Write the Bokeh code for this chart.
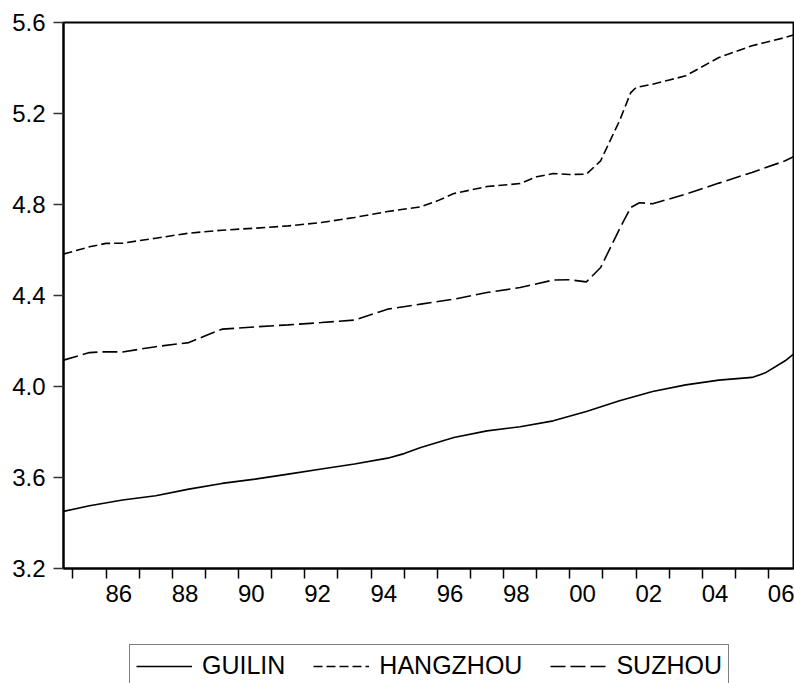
from bokeh.plotting import figure
from bokeh.layouts import column
from bokeh.models import (Range1d, FixedTicker, NumeralTickFormatter,
                          CustomJSTickFormatter, Legend, LegendItem)
from bokeh.embed import file_html
from bokeh.resources import INLINE

# ---- data ----
guilin_x = [1984.716, 1985.5, 1986.5, 1987.5, 1988.5, 1989.5, 1990.5, 1991.5,
            1992.5, 1993.5, 1994.5, 1995.0, 1995.5, 1996.5, 1997.5, 1998.5,
            1999.5, 2000.5, 2001.5, 2002.5, 2003.5, 2004.5, 2005.5, 2005.9,
            2006.5, 2006.752]
guilin = [3.451, 3.476, 3.501, 3.520, 3.549, 3.574, 3.593, 3.615,
          3.637, 3.659, 3.685, 3.705, 3.732, 3.776, 3.805, 3.823,
          3.849, 3.890, 3.937, 3.978, 4.007, 4.028, 4.040, 4.060,
          4.113, 4.142]

hangzhou_x = [1984.716, 1985.5, 1986.0, 1986.5, 1987.5, 1988.5, 1989.5, 1990.5,
              1991.5, 1992.5, 1993.5, 1994.5, 1995.5, 1996.0, 1996.5, 1997.5,
              1998.5, 1999.0, 1999.5, 2000.0, 2000.5, 2000.93, 2001.5, 2001.84,
              2002.0, 2002.5, 2003.0, 2003.5, 2004.5, 2005.5, 2006.5, 2006.752]
hangzhou = [4.582, 4.614, 4.629, 4.630, 4.652, 4.674, 4.687, 4.696,
            4.706, 4.721, 4.743, 4.769, 4.790, 4.816, 4.848, 4.879,
            4.892, 4.922, 4.936, 4.932, 4.933, 4.992, 5.168, 5.292,
            5.314, 5.329, 5.347, 5.366, 5.446, 5.498, 5.534, 5.545]

suzhou_x = [1984.716, 1985.5, 1986.0, 1986.5, 1987.5, 1988.5, 1989.0, 1989.5,
            1990.5, 1991.5, 1992.5, 1993.5, 1994.5, 1995.5, 1996.5, 1997.5,
            1998.5, 1999.5, 2000.0, 2000.5, 2000.93, 2001.5, 2001.84, 2002.1,
            2002.5, 2003.5, 2004.5, 2005.5, 2006.5, 2006.752]
suzhou = [4.116, 4.149, 4.153, 4.152, 4.175, 4.193, 4.223, 4.252,
          4.262, 4.271, 4.281, 4.292, 4.340, 4.362, 4.384, 4.413,
          4.435, 4.468, 4.469, 4.460, 4.523, 4.692, 4.787, 4.808,
          4.803, 4.846, 4.894, 4.941, 4.992, 5.010]

tick_years = list(range(1985, 2007))
label_years = [1986, 1988, 1990, 1992, 1994, 1996, 1998, 2000, 2002, 2004, 2006]
label_text = ["86", "88", "90", "92", "94", "96", "98", "00", "02", "04", "06"]
y_ticks = [3.2, 3.6, 4.0, 4.4, 4.8, 5.2, 5.6]

series_names = ["GUILIN", "HANGZHOU", "SUZHOU"]
series_x = [guilin_x, hangzhou_x, suzhou_x]
series_y = [guilin, hangzhou, suzhou]

# ---- styles ----
FONT = "Liberation Sans"
LABEL_SHIFT = 0.385
label_pos = [y + LABEL_SHIFT for y in label_years]
DASHES = ["solid", "9 4", "15 5"]
LW = 1.6

# ---- main chart ----
p = figure(width=794, height=618, output_backend="svg", toolbar_location=None,
           x_range=Range1d(1984.716, 2006.752), y_range=Range1d(3.2, 5.6),
           min_border_left=63, min_border_right=1, min_border_top=22,
           min_border_bottom=50)
p.background_fill_color = "white"
p.border_fill_color = "white"
p.outline_line_color = "black"
p.outline_line_width = 2
p.grid.visible = False

for xs, ys, dash in zip(series_x, series_y, DASHES):
    p.line(xs, ys, line_color="black", line_width=LW, line_dash=dash)

# x axis: tick marks at year boundaries, labels inside the interval
xa = p.xaxis[0]
xa.ticker = FixedTicker(ticks=label_pos, minor_ticks=tick_years)
xa.formatter = CustomJSTickFormatter(
    args=dict(pos=label_pos, labels=label_text),
    code="for (let i = 0; i < pos.length; i++) { if (Math.abs(pos[i] - tick) < 1e-6) return labels[i]; } return '';")
xa.major_tick_line_color = None
xa.major_tick_out = 10
xa.major_tick_in = 0
xa.minor_tick_out = 10
xa.minor_tick_in = 0
xa.minor_tick_line_color = "black"
xa.minor_tick_line_width = 1.5
xa.axis_line_color = "black"
xa.axis_line_width = 2
xa.major_label_standoff = 6
xa.major_label_text_font = FONT
xa.major_label_text_font_size = "24px"
xa.major_label_text_color = "black"

ya = p.yaxis[0]
ya.ticker = FixedTicker(ticks=y_ticks)
ya.formatter = NumeralTickFormatter(format="0.0")
ya.major_tick_out = 10
ya.major_tick_in = 0
ya.major_tick_line_color = "#333333"
ya.major_tick_line_width = 1.5
ya.minor_tick_line_color = None
ya.axis_line_color = "black"
ya.axis_line_width = 2
ya.major_label_standoff = 8
ya.major_label_text_font = FONT
ya.major_label_text_font_size = "24px"
ya.major_label_text_color = "black"

# ---- legend strip below the chart ----
# (its ranges are far from the data, so the series lines themselves stay
#  out of view; they only supply the legend samples)
lg = figure(width=794, height=65, output_backend="svg", toolbar_location=None,
            x_axis_location=None, y_axis_location=None,
            x_range=Range1d(0, 1), y_range=Range1d(0, 1),
            min_border_left=0, min_border_right=0, min_border_top=0,
            min_border_bottom=0)
lg.outline_line_color = None
lg.grid.visible = False
lg.background_fill_color = "white"
lg.border_fill_color = "white"

items = []
for name, xs, ys, dash in zip(series_names, series_x, series_y, DASHES):
    r = lg.line(xs, ys, line_color="black", line_width=LW, line_dash=dash)
    items.append(LegendItem(label=name, renderers=[r]))

legend = Legend(items=items, location=(66, -4), orientation="horizontal")
legend.label_text_font = FONT
legend.label_text_font_size = "25px"
legend.label_text_color = "black"
legend.glyph_width = 56
legend.label_standoff = 10
legend.spacing = 28
legend.padding = 6
legend.border_line_color = "black"
legend.border_line_width = 1.5
legend.background_fill_color = "white"
legend.margin = 0
lg.add_layout(legend)

layout = column(p, lg, spacing=0)
open("out.html", "w").write(file_html(layout, INLINE))
